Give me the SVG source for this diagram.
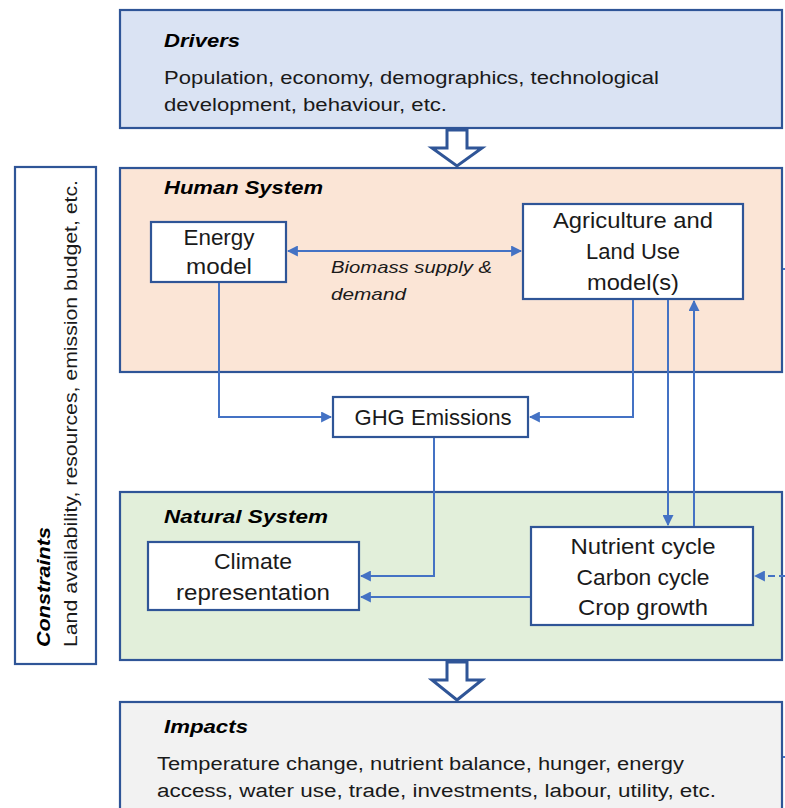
<svg xmlns="http://www.w3.org/2000/svg" width="785" height="808" viewBox="0 0 785 808">
<style>
.frame{stroke:#2f5597;stroke-width:2.2}
.node{fill:#ffffff;stroke:#2f5597;stroke-width:2.2}
.conn{fill:none;stroke:#4472c4;stroke-width:2}
.t{font-family:"Liberation Sans",Arial,sans-serif;fill:#1a1a1a}
.h{font-family:"Liberation Sans",Arial,sans-serif;font-weight:bold;font-style:italic;font-size:19px;fill:#000}
.n{font-size:22px;text-anchor:middle}
.b{font-size:18px}
.i{font-style:italic;font-size:17px}
.hollow{fill:#ffffff;stroke:#2f5597;stroke-width:3;stroke-linejoin:miter}
</style>
<defs>
<marker id="ah" viewBox="0 0 10 10" refX="9" refY="5" markerWidth="5.5" markerHeight="5.5" orient="auto-start-reverse" markerUnits="strokeWidth">
<path d="M0,0 L10,5 L0,10 z" fill="#4472c4"/>
</marker>
</defs>

<g id="constraints">
<rect x="15" y="167" width="81" height="497" fill="#ffffff" class="frame"/>
<text class="h" transform="translate(50,647) rotate(-90)" textLength="120" lengthAdjust="spacingAndGlyphs">Constraints</text>
<text class="t b" transform="translate(77,647) rotate(-90)" textLength="467" lengthAdjust="spacingAndGlyphs">Land availability, resources, emission budget, etc.</text>
</g>

<g id="drivers">
<rect x="120" y="10" width="662" height="118" fill="#dae3f3" class="frame"/>
<text class="h" x="164" y="47" textLength="76" lengthAdjust="spacingAndGlyphs">Drivers</text>
<text class="t b" x="164" y="84" textLength="495" lengthAdjust="spacingAndGlyphs">Population, economy, demographics,  technological</text>
<text class="t b" x="164" y="111" textLength="283" lengthAdjust="spacingAndGlyphs">development, behaviour, etc.</text>
</g>

<g id="arrow-drivers-human">
<path class="hollow" d="M447,130 L467,130 L467,148 L482,148 L457,166 L432,148 L447,148 Z"/>
</g>

<g id="human-system">
<rect x="120" y="168" width="662" height="204" fill="#fbe5d6" class="frame"/>
<text class="h" x="164" y="194" textLength="159" lengthAdjust="spacingAndGlyphs">Human System</text>
</g>

<g id="natural-system">
<rect x="120" y="492" width="662" height="168" fill="#e2efda" class="frame"/>
<text class="h" x="164" y="523" textLength="164" lengthAdjust="spacingAndGlyphs">Natural System</text>
</g>

<g id="arrow-natural-impacts">
<path class="hollow" d="M447,662 L467,662 L467,680 L482,680 L457,700 L432,680 L447,680 Z"/>
</g>

<g id="impacts">
<rect x="120" y="702" width="662" height="112" fill="#f2f2f2" class="frame"/>
<text class="h" x="164" y="733" textLength="84" lengthAdjust="spacingAndGlyphs">Impacts</text>
<text class="t b" x="157" y="770" textLength="527" lengthAdjust="spacingAndGlyphs">Temperature change, nutrient balance, hunger, energy</text>
<text class="t b" x="157" y="797" textLength="559" lengthAdjust="spacingAndGlyphs">access, water use, trade, investments, labour, utility, etc.</text>
</g>

<g id="energy-model">
<rect x="151" y="222" width="135" height="60" class="node"/>
<text class="t n" x="219" y="245" textLength="71" lengthAdjust="spacingAndGlyphs">Energy</text>
<text class="t n" x="219" y="274" textLength="66" lengthAdjust="spacingAndGlyphs">model</text>
</g>

<g id="agriculture">
<rect x="523" y="204" width="220" height="95" class="node"/>
<text class="t n" x="633" y="228" textLength="160" lengthAdjust="spacingAndGlyphs">Agriculture and</text>
<text class="t n" x="633" y="259" textLength="94" lengthAdjust="spacingAndGlyphs">Land Use</text>
<text class="t n" x="633" y="290" textLength="92" lengthAdjust="spacingAndGlyphs">model(s)</text>
</g>

<g id="ghg">
<rect x="333" y="397" width="195" height="40" class="node"/>
<text class="t n" x="433" y="425" textLength="157" lengthAdjust="spacingAndGlyphs">GHG Emissions</text>
</g>

<g id="climate">
<rect x="148" y="542" width="211" height="68" class="node"/>
<text class="t n" x="253" y="569" textLength="78" lengthAdjust="spacingAndGlyphs">Climate</text>
<text class="t n" x="253" y="600" textLength="154" lengthAdjust="spacingAndGlyphs">representation</text>
</g>

<g id="nutrient">
<rect x="531" y="527" width="222" height="98" class="node"/>
<text class="t n" x="643" y="554" textLength="145" lengthAdjust="spacingAndGlyphs">Nutrient cycle</text>
<text class="t n" x="643" y="585" textLength="133" lengthAdjust="spacingAndGlyphs">Carbon cycle</text>
<text class="t n" x="643" y="615" textLength="130" lengthAdjust="spacingAndGlyphs">Crop growth</text>
</g>

<g id="connectors">
<line class="conn" x1="288" y1="251" x2="521" y2="251" marker-start="url(#ah)" marker-end="url(#ah)"/>
<text class="t i" x="331" y="273" textLength="161" lengthAdjust="spacingAndGlyphs">Biomass supply &amp;</text>
<text class="t i" x="331" y="300" textLength="75" lengthAdjust="spacingAndGlyphs">demand</text>
<polyline class="conn" points="219,283 219,417 331,417" marker-end="url(#ah)"/>
<polyline class="conn" points="633,300 633,417 530,417" marker-end="url(#ah)"/>
<line class="conn" x1="668" y1="300" x2="668" y2="525" marker-end="url(#ah)"/>
<line class="conn" x1="694" y1="526" x2="694" y2="301" marker-end="url(#ah)"/>
<polyline class="conn" points="434,438 434,576 361,576" marker-end="url(#ah)"/>
<line class="conn" x1="530" y1="597" x2="361" y2="597" marker-end="url(#ah)"/>
<line class="conn" x1="786" y1="576" x2="755" y2="576" stroke-dasharray="7,4" marker-end="url(#ah)"/>
<line class="conn" x1="783" y1="269" x2="786" y2="269"/>
<line class="conn" x1="783" y1="757" x2="786" y2="757"/>
</g>
</svg>
